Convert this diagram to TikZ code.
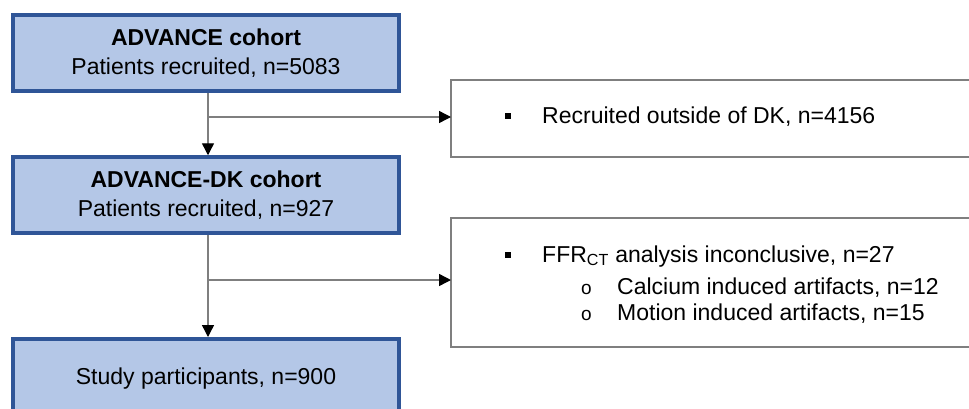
\documentclass[tikz,border=0pt]{standalone}
\usepackage{fontspec}
\setmainfont{Liberation Sans}
\usetikzlibrary{arrows.meta}
\definecolor{boxfill}{HTML}{B4C7E7}
\definecolor{boxline}{HTML}{2F5597}
\definecolor{greyline}{HTML}{7F7F7F}
\begin{document}
\begin{tikzpicture}[x=1pt,y=-1pt,
  bluebox/.style={draw=boxline, line width=3.5pt, fill=boxfill, inner sep=0pt,
    minimum width=386pt, minimum height=76pt, align=center,
    font=\fontsize{23}{28.5}\selectfont},
  txt/.style={anchor=base west, inner sep=0pt, font=\fontsize{23}{27}\selectfont},
  sq/.style={fill=black, inner sep=0pt, minimum size=5.5pt},
  circ/.style={anchor=base west, inner sep=0pt, font=\fontsize{19}{22}\selectfont},
  conn/.style={draw=greyline, line width=1.4pt},
  arr/.style={conn, -{Triangle[length=12pt,width=12pt,fill=black,color=black]}},
]
\useasboundingbox (0,0) rectangle (969,408);
\clip (0,0) rectangle (969,408);
\fill[white] (0,0) rectangle (969,408);

% right grey boxes
\draw[greyline, line width=1.4pt] (451,80) rectangle (990,157);
\coordinate (r1) at (451,117);
\draw[greyline, line width=1.4pt] (451,218) rectangle (990,347);
\coordinate (r2) at (451,280);

% main boxes
\node[bluebox] (b1) at (206,53) {\textbf{ADVANCE cohort}\\Patients recruited, n=5083};
\node[bluebox] (b2) at (206,195) {\textbf{ADVANCE-DK cohort}\\Patients recruited, n=927};
\node[bluebox, minimum height=100pt, anchor=north] (b3) at (206,337) {};
\node[txt, anchor=base] (t3) at (206,384) {Study participants, n=900};

% connectors
\coordinate (j1) at (208,117);
\coordinate (j2) at (208,280);
\draw[arr] (b1.south -| j1) -- (b2.north -| j1);
\draw[arr] (j1) -- (r1);
\draw[arr] (b2.south -| j2) -- (b3.north -| j2);
\draw[arr] (j2) -- (r2);

% texts right
\node[sq] (s1) at (508,116) {};
\node[txt] (l1) at (542,123) {Recruited outside of DK, n=4156};
\node[sq] (s2) at (508,255) {};
\node[txt] (l2) at (542,262) {FFR\textsubscript{CT} analysis inconclusive, n=27};
\node[circ] (c1) at (581,294) {o};
\node[txt] (l3) at (617,294) {Calcium induced artifacts, n=12};
\node[circ] (c2) at (581,320) {o};
\node[txt] (l4) at (617,320) {Motion induced artifacts, n=15};
\end{tikzpicture}
\end{document}
